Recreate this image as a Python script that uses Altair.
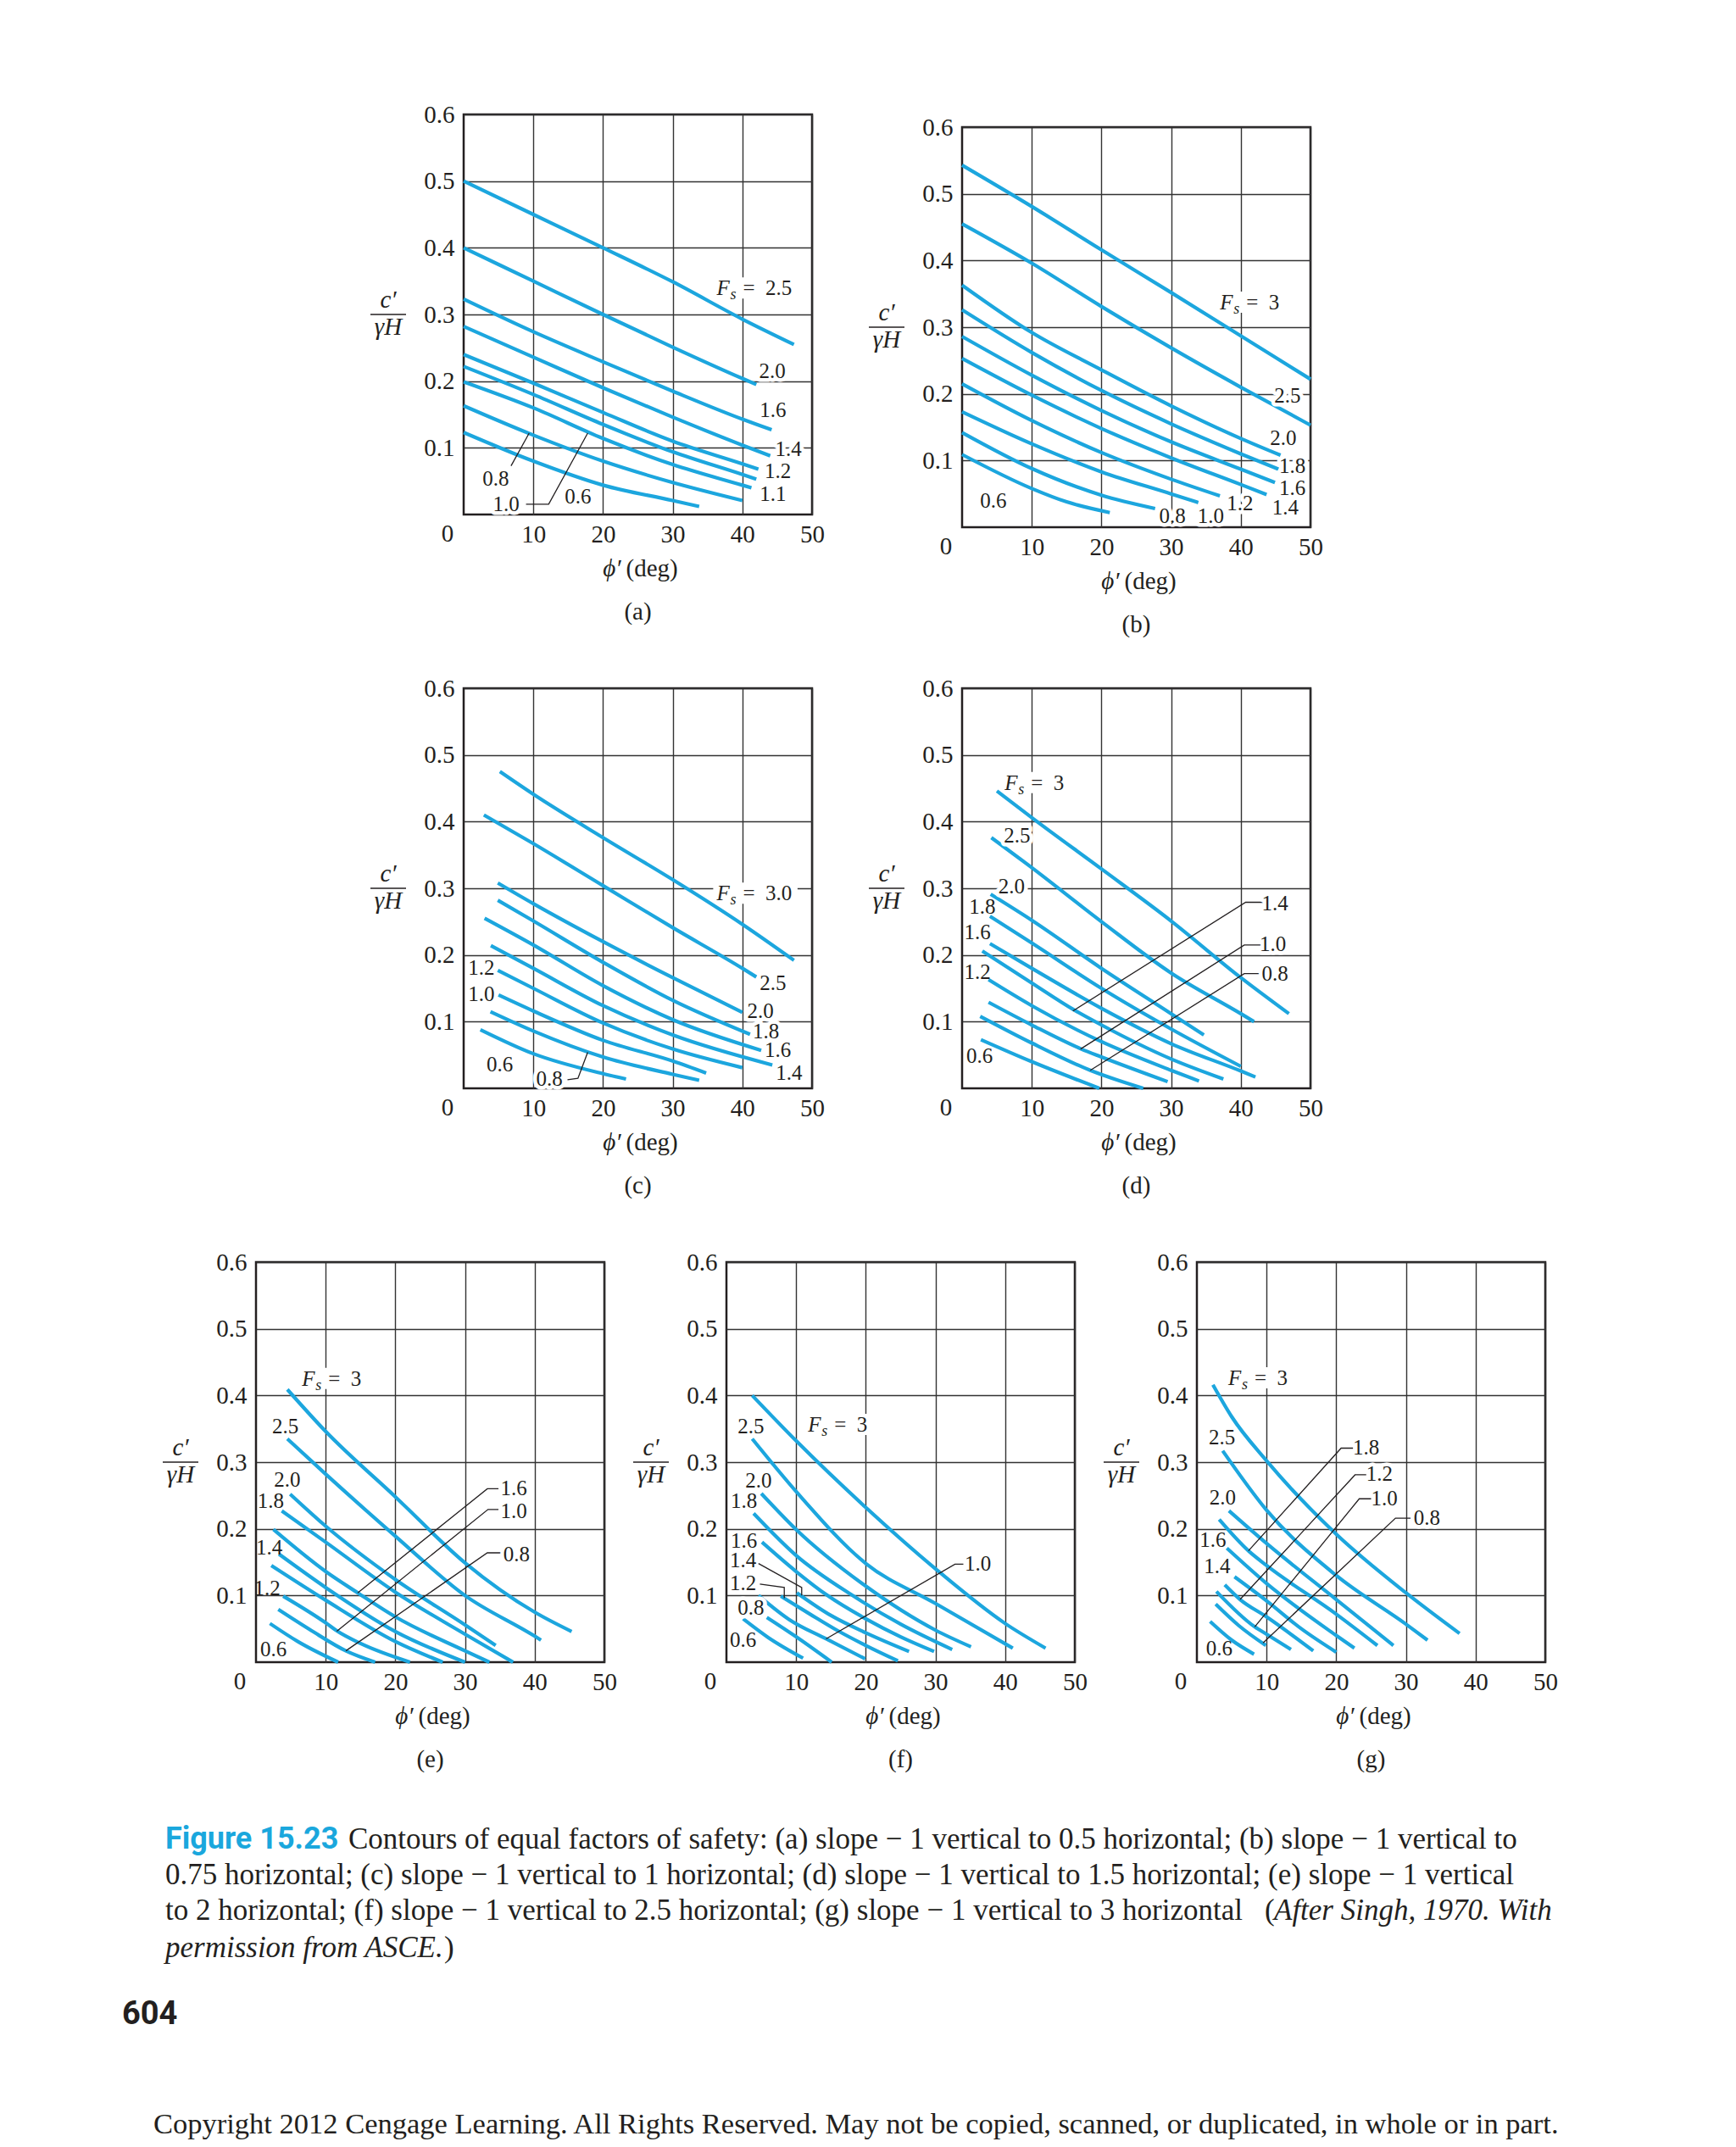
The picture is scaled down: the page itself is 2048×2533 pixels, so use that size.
import altair as alt
import pandas as pd

SERIF = "Liberation Serif"
SANS = "Roboto"
INK = "#231f20"
GRID = "#333333"
BLUE = "#1ca6de"
CAPBLUE = "#1aa7dd"
PW, PH = 411, 472

X_TICKS = [10, 20, 30, 40, 50]
Y_TICKS = [0.1, 0.2, 0.3, 0.4, 0.5, 0.6]

# ---------------- (a) slope 1 vertical : 0.5 horizontal ----------------
A_CURVES = {
    "2.5": [(0, 0.500), (10, 0.450), (20, 0.400), (30, 0.349), (40, 0.293), (47.4, 0.255)],
    "2.0": [(0, 0.400), (10, 0.350), (20, 0.300), (30, 0.251), (40, 0.204), (42.0, 0.195)],
    "1.6": [(0, 0.323), (10, 0.274), (20, 0.229), (30, 0.185), (40, 0.143), (44.2, 0.127)],
    "1.4": [(0, 0.282), (10, 0.236), (20, 0.190), (30, 0.146), (40, 0.104), (44.0, 0.088)],
    "1.2": [(0, 0.240), (10, 0.197), (20, 0.153), (30, 0.110), (40, 0.076), (42.3, 0.068)],
    "1.1": [(0, 0.222), (10, 0.180), (20, 0.135), (30, 0.094), (40, 0.060), (42.0, 0.053)],
    "1.0": [(0, 0.199), (10, 0.160), (20, 0.114), (30, 0.075), (40, 0.044), (41.3, 0.040)],
    "0.8": [(0, 0.163), (10, 0.119), (20, 0.080), (30, 0.048), (40.0, 0.021)],
    "0.6": [(0, 0.123), (10, 0.080), (20, 0.044), (30, 0.021), (33.8, 0.012)],
}
A_LABELS = [(44.3, 0.215, "2.0"), (44.4, 0.156, "1.6"), (46.6, 0.098, "1.4"), (45.1, 0.065, "1.2"),
            (44.4, 0.031, "1.1"), (4.6, 0.054, "0.8"), (6.1, 0.0155, "1.0"), (16.4, 0.027, "0.6")]
A_FS = (36.3, 0.339, "2.5")
A_LEADERS = {"0.8": [(6.8, 0.073), (9.4, 0.122)],
             "1.0": [(8.95, 0.0155), (12.2, 0.0155), (17.8, 0.122)]}

# ---------------- (b) slope 1 : 0.75 ----------------
B_CURVES = {
    "3": [(0, 0.543), (10, 0.481), (20, 0.416), (30, 0.352), (40, 0.287), (50, 0.222)],
    "2.5": [(0, 0.455), (10, 0.396), (20, 0.331), (30, 0.269), (40, 0.210), (50, 0.153)],
    "2.0": [(0, 0.363), (10, 0.292), (20, 0.236), (30, 0.182), (40, 0.133), (45.7, 0.108)],
    "1.8": [(0, 0.326), (10, 0.262), (20, 0.205), (30, 0.155), (40, 0.110), (45.4, 0.087)],
    "1.6": [(0, 0.286), (10, 0.228), (20, 0.175), (30, 0.128), (40, 0.087), (44.9, 0.067)],
    "1.4": [(0, 0.253), (10, 0.198), (20, 0.148), (30, 0.104), (40, 0.064), (43.7, 0.049)],
    "1.2": [(0, 0.215), (10, 0.160), (20, 0.112), (30, 0.072), (37.0, 0.047)],
    "1.0": [(0, 0.173), (10, 0.125), (20, 0.083), (30, 0.050), (33.9, 0.037)],
    "0.8": [(0, 0.142), (10, 0.088), (20, 0.048), (27.7, 0.028)],
    "0.6": [(0, 0.109), (10, 0.058), (15, 0.038), (21.2, 0.022)],
}
B_LABELS = [(46.7, 0.197, "2.5"), (46.1, 0.133, "2.0"), (47.4, 0.091, "1.8"), (47.4, 0.059, "1.6"),
            (46.4, 0.029, "1.4"), (39.9, 0.036, "1.2"), (35.7, 0.0166, "1.0"), (30.2, 0.0166, "0.8"),
            (4.5, 0.040, "0.6")]
B_FS = (37.0, 0.337, "3")
B_LEADERS = {}

# ---------------- (c) slope 1 : 1 ----------------
C_CURVES = {
    "3.0": [(5.2, 0.475), (10, 0.441), (20, 0.376), (30, 0.313), (40, 0.246), (47.4, 0.192)],
    "2.5": [(2.9, 0.410), (10, 0.367), (20, 0.304), (30, 0.241), (40, 0.180), (42.0, 0.167)],
    "2.0": [(4.9, 0.308), (10, 0.277), (20, 0.220), (30, 0.166), (40, 0.114)],
    "1.8": [(4.9, 0.282), (10, 0.251), (20, 0.189), (30, 0.132), (41.1, 0.081)],
    "1.6": [(3.0, 0.255), (10, 0.215), (20, 0.154), (30, 0.103), (42.7, 0.057)],
    "1.4": [(3.9, 0.214), (10, 0.180), (20, 0.124), (30, 0.080), (44.3, 0.035)],
    "1.2": [(4.9, 0.177), (10, 0.150), (20, 0.098), (30, 0.059), (40, 0.031)],
    "1.0": [(5.0, 0.140), (10, 0.116), (20, 0.072), (30, 0.041), (34.8, 0.023)],
    "0.8": [(3.85, 0.115), (10, 0.086), (20, 0.047), (30, 0.021), (33.8, 0.012)],
    "0.6": [(2.4, 0.088), (10, 0.052), (20, 0.022), (23.3, 0.014)],
}
C_LABELS = [(44.4, 0.157, "2.5"), (42.6, 0.116, "2.0"), (43.4, 0.085, "1.8"), (45.1, 0.057, "1.6"),
            (46.7, 0.023, "1.4"), (2.55, 0.180, "1.2"), (2.55, 0.141, "1.0"), (5.2, 0.035, "0.6"),
            (12.3, 0.014, "0.8")]
C_FS = (36.3, 0.292, "3.0")
C_LEADERS = {"0.8": [(14.9, 0.013), (16.4, 0.015), (17.8, 0.054)]}

# ---------------- (d) slope 1 : 1.5 ----------------
D_CURVES = {
    "3": [(5.0, 0.446), (10, 0.406), (20, 0.329), (30, 0.251), (40, 0.166), (46.9, 0.112)],
    "2.5": [(4.2, 0.376), (10, 0.331), (20, 0.250), (30, 0.173), (40, 0.112), (41.9, 0.100)],
    "2.0": [(4.1, 0.291), (10, 0.252), (20, 0.180), (30, 0.112), (34.7, 0.080)],
    "1.8": [(4.0, 0.258), (10, 0.218), (20, 0.150), (30, 0.089), (40, 0.033)],
    "1.6": [(4.0, 0.217), (10, 0.180), (20, 0.120), (30, 0.067), (40, 0.026), (42.1, 0.017)],
    "1.4": [(2.9, 0.206), (10, 0.158), (16, 0.118), (20, 0.095), (30, 0.044), (37.5, 0.014)],
    "1.2": [(3.8, 0.163), (10, 0.124), (20, 0.070), (30, 0.027), (34.0, 0.011)],
    "1.0": [(3.8, 0.129), (10, 0.095), (17.1, 0.059), (20, 0.047), (29.5, 0.010)],
    "0.8": [(2.6, 0.108), (10, 0.068), (18.4, 0.027), (26.0, 0.0)],
    "0.6": [(2.7, 0.073), (10, 0.040), (19.7, 0.0)],
}
D_LABELS = [(7.9, 0.379, "2.5"), (7.1, 0.302, "2.0"), (2.9, 0.272, "1.8"), (2.2, 0.234, "1.6"),
            (2.2, 0.174, "1.2"), (2.5, 0.048, "0.6"), (44.9, 0.277, "1.4"), (44.6, 0.216, "1.0"),
            (44.9, 0.172, "0.8")]
D_FS = (6.1, 0.458, "3")
D_LEADERS = {"1.4": [(43.3, 0.279), (40.7, 0.279), (15.9, 0.116)],
             "1.0": [(43.1, 0.215), (40.5, 0.215), (17.0, 0.059)],
             "0.8": [(43.3, 0.172), (40.5, 0.172), (18.4, 0.027)]}

# ---------------- (e) slope 1 : 2 ----------------
E_CURVES = {
    "3": [(4.5, 0.409), (10, 0.346), (20, 0.248), (30, 0.149), (40, 0.075), (45.3, 0.046)],
    "2.5": [(4.5, 0.335), (10, 0.282), (20, 0.189), (30, 0.100), (40, 0.039), (40.9, 0.033)],
    "2.0": [(4.9, 0.252), (10, 0.204), (20, 0.124), (30, 0.056), (34.4, 0.025)],
    "1.8": [(3.7, 0.227), (10, 0.180), (20, 0.105), (30, 0.042), (36.9, 0.0)],
    "1.6": [(2.5, 0.199), (10, 0.136), (14.6, 0.104), (20, 0.068), (30, 0.017), (33.5, 0.0)],
    "1.4": [(3.3, 0.162), (10, 0.112), (20, 0.046), (30, 0.0)],
    "1.2": [(2.2, 0.145), (10, 0.093), (20, 0.031), (26.8, 0.0)],
    "1.0": [(3.9, 0.099), (10, 0.059), (11.6, 0.047), (15, 0.028), (22.1, 0.0)],
    "0.8": [(3.2, 0.079), (8, 0.047), (12.9, 0.017), (17.1, 0.0)],
    "0.6": [(2.0, 0.058), (6, 0.031), (11.8, 0.0)],
}
E_LABELS = [(4.2, 0.354, "2.5"), (4.5, 0.273, "2.0"), (2.1, 0.241, "1.8"), (1.9, 0.171, "1.4"),
            (1.6, 0.110, "1.2"), (2.5, 0.0186, "0.6"), (37.0, 0.261, "1.6"), (37.0, 0.226, "1.0"),
            (37.4, 0.162, "0.8")]
E_FS = (6.6, 0.425, "3")
E_LEADERS = {"1.6": [(34.8, 0.260), (33.2, 0.260), (14.6, 0.104)],
             "1.0": [(34.8, 0.229), (33.3, 0.229), (11.6, 0.0465)],
             "0.8": [(35.2, 0.164), (33.2, 0.164), (12.9, 0.017)]}

# ---------------- (f) slope 1 : 2.5 ----------------
F_CURVES = {
    "3": [(3.7, 0.400), (10, 0.332), (20, 0.232), (30, 0.140), (40, 0.058), (45.8, 0.021)],
    "2.5": [(3.7, 0.335), (10, 0.256), (20, 0.148), (30, 0.088), (41.1, 0.021)],
    "2.0": [(5.0, 0.253), (10, 0.199), (20, 0.114), (30, 0.048), (35.1, 0.023)],
    "1.8": [(3.9, 0.223), (10, 0.160), (18.1, 0.100), (25, 0.057), (32.4, 0.019)],
    "1.6": [(5.1, 0.180), (10, 0.136), (14.5, 0.100), (20, 0.065), (25, 0.038), (29.8, 0.016)],
    "1.4": [(10.1, 0.104), (15, 0.070), (20, 0.044), (26.2, 0.016)],
    "1.2": [(7.8, 0.099), (12, 0.072), (16, 0.047), (20, 0.025), (24.6, 0.002)],
    "1.0": [(4.6, 0.100), (9, 0.064), (14.3, 0.035), (19.9, 0.005)],
    "0.8": [(5.8, 0.067), (10, 0.038), (15.1, 0.0)],
    "0.6": [(2.4, 0.065), (6, 0.037), (11.0, 0.006)],
}
F_LABELS = [(3.5, 0.353, "2.5"), (4.6, 0.272, "2.0"), (2.5, 0.241, "1.8"), (2.5, 0.182, "1.6"),
            (2.4, 0.153, "1.4"), (2.4, 0.118, "1.2"), (3.5, 0.081, "0.8"), (2.4, 0.033, "0.6"),
            (36.1, 0.147, "1.0")]
F_FS = (11.7, 0.356, "3")
F_LEADERS = {"1.4": [(4.6, 0.148), (10.8, 0.112), (10.8, 0.100)],
             "1.2": [(4.8, 0.117), (8.3, 0.112), (8.3, 0.096)],
             "1.0": [(34.0, 0.147), (32.8, 0.147), (14.3, 0.035)]}

# ---------------- (g) slope 1 : 3 ----------------
G_CURVES = {
    "3": [(2.3, 0.416), (5, 0.368), (10, 0.302), (20, 0.192), (30, 0.104), (37.7, 0.043)],
    "2.5": [(3.7, 0.317), (10, 0.228), (20, 0.130), (30, 0.057), (33.1, 0.033)],
    "2.0": [(4.6, 0.227), (10, 0.178), (20, 0.094), (28.2, 0.025)],
    "1.8": [(3.2, 0.214), (7.4, 0.167), (10, 0.145), (20, 0.072), (25.9, 0.025)],
    "1.6": [(4.3, 0.171), (10, 0.118), (20, 0.040), (22.6, 0.021)],
    "1.4": [(5.4, 0.128), (10, 0.092), (15, 0.050), (20.0, 0.015)],
    "1.2": [(4.0, 0.116), (6.2, 0.094), (10, 0.068), (16.7, 0.017)],
    "1.0": [(2.8, 0.106), (8.3, 0.053), (10, 0.042), (13.5, 0.019)],
    "0.8": [(2.7, 0.087), (6, 0.055), (9.9, 0.025)],
    "0.6": [(1.9, 0.061), (5, 0.033), (8.2, 0.012)],
}
G_LABELS = [(3.6, 0.337, "2.5"), (3.7, 0.246, "2.0"), (2.3, 0.183, "1.6"), (2.9, 0.144, "1.4"),
            (3.2, 0.020, "0.6"), (24.3, 0.321, "1.8"), (26.2, 0.282, "1.2"), (26.9, 0.245, "1.0"),
            (33.0, 0.216, "0.8")]
G_FS = (4.5, 0.426, "3")
G_LEADERS = {"1.8": [(22.4, 0.321), (20.7, 0.321), (7.4, 0.167)],
             "1.2": [(24.3, 0.281), (22.7, 0.281), (6.2, 0.094)],
             "1.0": [(25.0, 0.245), (23.3, 0.245), (8.3, 0.053)],
             "0.8": [(30.7, 0.216), (28.5, 0.216), (9.5, 0.029)]}

# ---------------- caption ----------------
CAP_FIG = "Figure 15.23"
CAP_LINES = [
    "Contours of equal factors of safety: (a) slope \u2212 1 vertical to 0.5 horizontal; (b) slope \u2212 1 vertical to",
    "0.75 horizontal; (c) slope \u2212 1 vertical to 1 horizontal; (d) slope \u2212 1 vertical to 1.5 horizontal; (e) slope \u2212 1 vertical",
    "to 2 horizontal; (f) slope \u2212 1 vertical to 2.5 horizontal; (g) slope \u2212 1 vertical to 3 horizontal",
]
CAP_ITALIC = ["After Singh, 1970. With", "permission from ASCE."]
PAGE_NO = "604"
COPYRIGHT = "Copyright 2012 Cengage Learning. All Rights Reserved. May not be copied, scanned, or duplicated, in whole or in part."

LABEL_SIZE = 25


def one_row():
    return pd.DataFrame({"k": [0]})


def panel(curves, labels, fs, leaders, letter):
    cdf = pd.DataFrame([{"phi": x, "c": y, "fs": k, "i": i}
                        for k, pts in curves.items() for i, (x, y) in enumerate(pts)])
    xsc = alt.Scale(domain=[0, 50], nice=False, zero=False)
    ysc = alt.Scale(domain=[0, 0.6], nice=False, zero=False)
    common = dict(grid=True, gridColor=GRID, gridWidth=1.4, gridOpacity=1, domain=False, ticks=False,
                  labelFont=SERIF, labelFontSize=29, labelColor=INK, labelFlush=False,
                  labelOverlap=False)
    xax = alt.Axis(values=X_TICKS, title=None, labelPadding=9, **common)
    yax = alt.Axis(values=Y_TICKS, format=".1f", title=None, labelPadding=11, **common)

    layers = []
    # white knock-out box behind the "F_s = ..." label (size in pixels -> data units)
    box_w = 58 + 12.5 * len(fs[2])
    bdf = pd.DataFrame([{"phi": fs[0] - 4 * 50 / PW, "phi2": fs[0] + box_w * 50 / PW,
                         "c": fs[1] - 12 * 0.6 / PH, "c2": fs[1] + 13 * 0.6 / PH}])
    layers.append(alt.Chart(bdf).mark_rect(color="white").encode(
        x=alt.X("phi:Q", scale=xsc, axis=xax), x2="phi2:Q",
        y=alt.Y("c:Q", scale=ysc, axis=yax), y2="c2:Q"))

    layers.append(
        alt.Chart(cdf).mark_line(color=BLUE, strokeWidth=4.2, interpolate="monotone",
                                 strokeCap="butt").encode(
            x="phi:Q", y="c:Q", detail="fs:N", order="i:Q"))
    if leaders:
        ldf = pd.DataFrame([{"phi": x, "c": y, "g": k, "i": i}
                            for k, pts in leaders.items() for i, (x, y) in enumerate(pts)])
        layers.append(alt.Chart(ldf).mark_line(color=INK, strokeWidth=1.3).encode(
            x="phi:Q", y="c:Q", detail="g:N", order="i:Q"))

    tdf = pd.DataFrame([{"phi": x, "c": y, "t": t} for x, y, t in labels])
    hdf = tdf[tdf["phi"] >= 3.5]  # labels away from the frame get a white knock-out
    fdf = pd.DataFrame([{"phi": fs[0], "c": fs[1], "v": "=\u2002" + fs[2]}])
    halo = dict(color="white", stroke="white", strokeWidth=9, strokeJoin="round")
    ink = dict(color=INK)
    layers.append(alt.Chart(hdf).mark_text(font=SERIF, fontSize=LABEL_SIZE, baseline="middle", **halo)
                  .encode(x="phi:Q", y="c:Q", text="t:N"))
    layers.append(alt.Chart(tdf).mark_text(font=SERIF, fontSize=LABEL_SIZE, baseline="middle", **ink)
                  .encode(x="phi:Q", y="c:Q", text="t:N"))
    layers.append(alt.Chart(fdf).mark_text(font=SERIF, fontSize=LABEL_SIZE, fontStyle="italic",
                                           align="left", baseline="middle", **ink)
                  .encode(x="phi:Q", y="c:Q", text=alt.value("F")))
    layers.append(alt.Chart(fdf).mark_text(font=SERIF, fontSize=18, fontStyle="italic",
                                           align="left", baseline="middle", dx=16, dy=8, **ink)
                  .encode(x="phi:Q", y="c:Q", text=alt.value("s")))
    layers.append(alt.Chart(fdf).mark_text(font=SERIF, fontSize=LABEL_SIZE, align="left",
                                           baseline="middle", dx=31, **ink)
                  .encode(x="phi:Q", y="c:Q", text="v:N"))

    # x-axis title: italic phi-prime + upright "(deg)"
    layers.append(alt.Chart(one_row()).mark_text(font=SERIF, fontSize=29, color=INK, fontStyle="italic",
                                                 align="right", baseline="alphabetic")
                  .encode(x=alt.value(PW / 2 - 20), y=alt.value(PH + 73), text=alt.value("\u03d5\u2032")))
    layers.append(alt.Chart(one_row()).mark_text(font=SERIF, fontSize=29, color=INK,
                                                 align="left", baseline="alphabetic")
                  .encode(x=alt.value(PW / 2 - 14), y=alt.value(PH + 73), text=alt.value("(deg)")))
    # corner "0" and the c'/(gamma H) fraction used as y title
    layers.append(alt.Chart(one_row()).mark_text(font=SERIF, fontSize=29, color=INK, baseline="top")
                  .encode(x=alt.value(-19), y=alt.value(PH + 9), text=alt.value("0")))
    layers.append(alt.Chart(one_row()).mark_text(font=SERIF, fontSize=29, color=INK,
                                                 fontStyle="italic", baseline="alphabetic")
                  .encode(x=alt.value(-89), y=alt.value(PH / 2 - 8), text=alt.value("c\u2032")))
    layers.append(alt.Chart(one_row()).mark_rule(color=INK, strokeWidth=1.6)
                  .encode(x=alt.value(-110), x2=alt.value(-68), y=alt.value(PH / 2)))
    layers.append(alt.Chart(one_row()).mark_text(font=SERIF, fontSize=29, color=INK,
                                                 fontStyle="italic", baseline="alphabetic")
                  .encode(x=alt.value(-89), y=alt.value(PH / 2 + 24), text=alt.value("\u03b3H")))

    return alt.layer(*layers).properties(
        width=PW, height=PH,
        title=alt.TitleParams(text="(" + letter + ")", orient="bottom", anchor="middle",
                              font=SERIF, fontSize=29, fontWeight="normal", color=INK, offset=22))


def spacer(w, h):
    return alt.Chart(one_row()).mark_rect(color="white", opacity=0).encode(
        x=alt.value(0), x2=alt.value(w), y=alt.value(0), y2=alt.value(h)
    ).properties(width=w, height=h, view=alt.ViewBackground(stroke="transparent"))


def caption():
    cw, ch = 1900, 372
    XS = alt.X("x:Q", scale=None, axis=None)
    YS = alt.Y("y:Q", scale=None, axis=None)
    normal = pd.DataFrame({"x": [401, 185, 185, 1482, 514],
                           "y": [18, 60, 102, 102, 146],
                           "t": [CAP_LINES[0], CAP_LINES[1], CAP_LINES[2], "(", ")"]})
    italic = pd.DataFrame({"x": [1493, 185], "y": [102, 146], "t": CAP_ITALIC})
    copy = pd.DataFrame({"x": [171], "y": [355], "t": [COPYRIGHT]})
    fig = pd.DataFrame({"x": [185], "y": [18], "t": [CAP_FIG]})
    page = pd.DataFrame({"x": [134], "y": [225], "t": [PAGE_NO]})
    l1 = alt.Chart(normal).mark_text(font=SERIF, fontSize=35, color=INK, align="left",
                                     baseline="middle").encode(x=XS, y=YS, text="t:N")
    l2 = alt.Chart(italic).mark_text(font=SERIF, fontSize=35, color=INK, align="left",
                                     baseline="middle", fontStyle="italic").encode(x=XS, y=YS, text="t:N")
    l5 = alt.Chart(copy).mark_text(font=SERIF, fontSize=34.5, color=INK, align="left",
                                   baseline="middle").encode(x=XS, y=YS, text="t:N")
    l3 = alt.Chart(fig).mark_text(font=SANS, fontSize=36, color=CAPBLUE, align="left",
                                  baseline="middle", fontWeight="bold").encode(x=XS, y=YS, text="t:N")
    l4 = alt.Chart(page).mark_text(font=SANS, fontSize=38, color=INK, align="left",
                                   baseline="middle", fontWeight="bold").encode(x=XS, y=YS, text="t:N")
    return alt.layer(l1, l2, l5, l3, l4).properties(
        width=cw, height=ch, view=alt.ViewBackground(stroke="transparent"))


pa = panel(A_CURVES, A_LABELS, A_FS, A_LEADERS, "a")
pb = panel(B_CURVES, B_LABELS, B_FS, B_LEADERS, "b")
pc = panel(C_CURVES, C_LABELS, C_FS, C_LEADERS, "c")
pd_ = panel(D_CURVES, D_LABELS, D_FS, D_LEADERS, "d")
pe = panel(E_CURVES, E_LABELS, E_FS, E_LEADERS, "e")
pf = panel(F_CURVES, F_LABELS, F_FS, F_LEADERS, "f")
pg = panel(G_CURVES, G_LABELS, G_FS, G_LEADERS, "g")

row1 = alt.hconcat(spacer(374, 10),
                   alt.vconcat(spacer(2, 1), pa, spacing=0),
                   alt.vconcat(spacer(2, 16), pb, spacing=0), spacing=48)
row2 = alt.hconcat(spacer(374, 10), pc, pd_, spacing=48)
row3 = alt.hconcat(spacer(162, 10), pe, pf, pg, spacing=15)
inner = alt.vconcat(row2, row3, caption(), spacing=57)

chart = alt.vconcat(row1, inner, spacing=42).properties(
    padding={"left": 0, "top": 106, "right": 0, "bottom": 0},
    background="white",
).configure_view(stroke=INK, strokeWidth=2.5)

chart.save("out.html", embed_options={"renderer": "svg", "actions": False})
